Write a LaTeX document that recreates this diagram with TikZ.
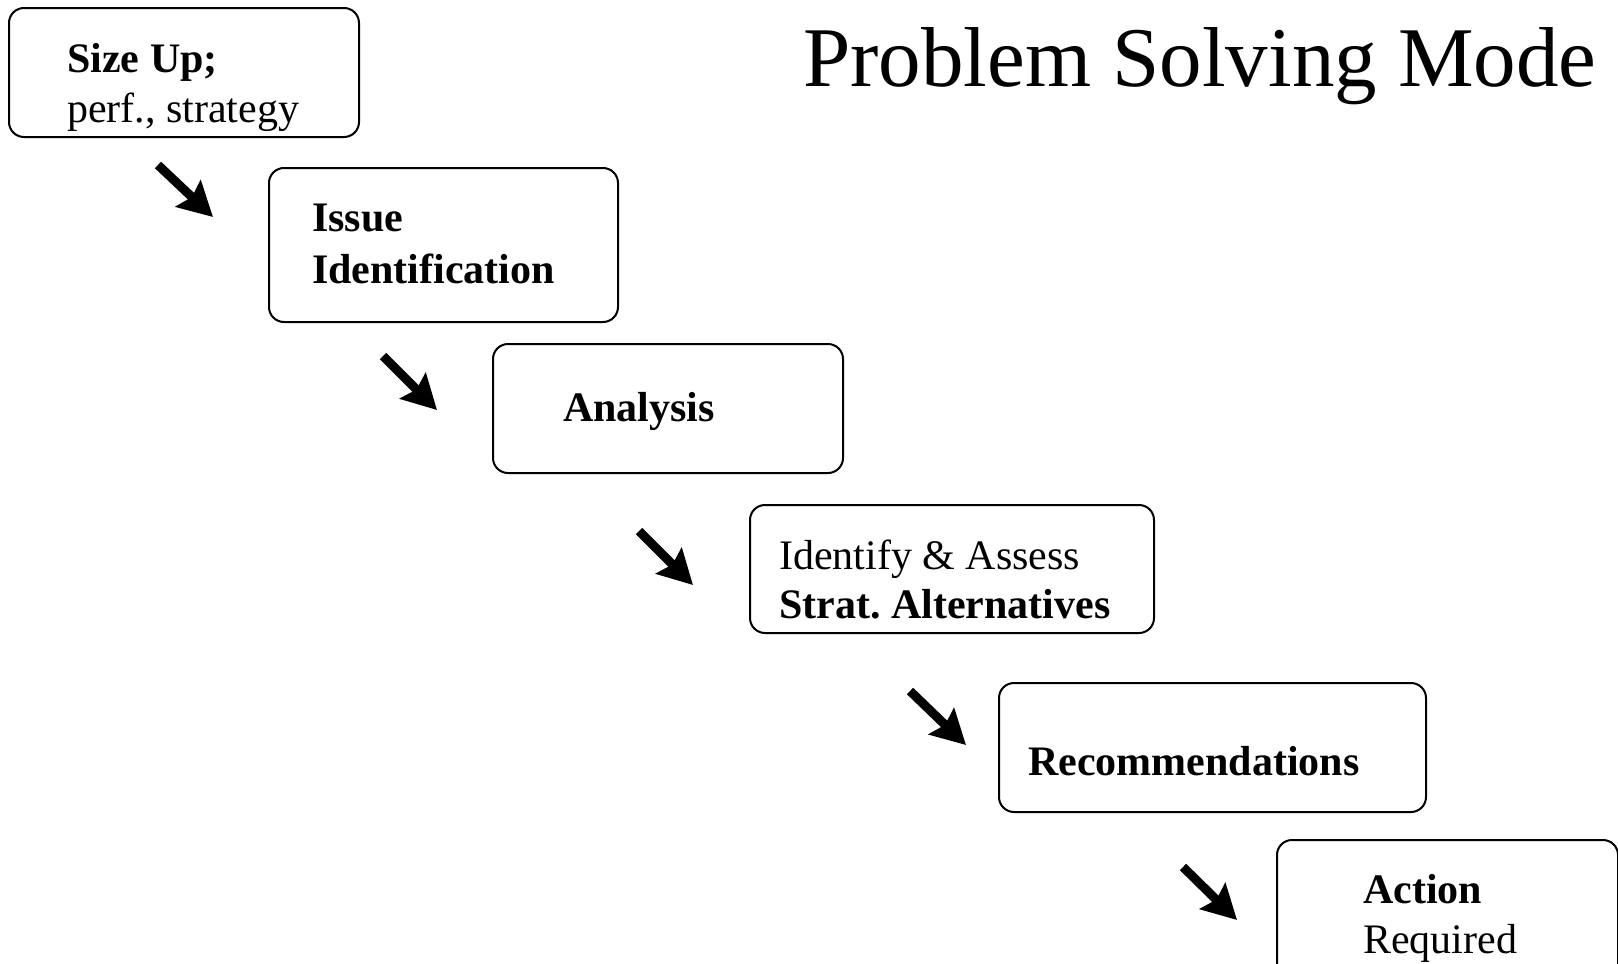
\documentclass[tikz,border=0pt]{standalone}
\usepackage{fontspec}
\setmainfont{Liberation Serif}
\usetikzlibrary{arrows.meta}
\frenchspacing
\begin{document}
\begin{tikzpicture}[x=1pt,y=-1pt,
  stepbox/.style={draw=black,line width=2pt,rounded corners=15pt,fill=white,
    inner sep=0pt,anchor=north west},
  boxtext/.style={anchor=base west,inner sep=0pt,font=\fontsize{42}{50}\selectfont},
  blockarrow/.style={line width=9pt,-{Stealth[length=34pt,width=36pt,inset=5pt]}}]
\useasboundingbox (0,0) rectangle (1618,964);
\clip (0,0) rectangle (1618,964);

% title
\node[anchor=base west,inner sep=0pt,font=\fontsize{85}{100}\selectfont] (title) at (803,86) {Problem Solving Mode};

% process boxes
\node[stepbox,minimum width=350pt,minimum height=129pt] (b1) at (8,7) {};
\node[stepbox,minimum width=349pt,minimum height=154pt] (b2) at (268,167) {};
\node[stepbox,minimum width=350pt,minimum height=129pt] (b3) at (492,343) {};
\node[stepbox,minimum width=404pt,minimum height=128pt] (b4) at (749,504) {};
\node[stepbox,minimum width=427pt,minimum height=129pt] (b5) at (998,682) {};
\node[stepbox,minimum width=341pt,minimum height=180pt] (b6) at (1276,839) {};

% box labels
\node[boxtext] (t1a) at (67,72) {\textbf{Size Up;}};
\node[boxtext] (t1b) at (67,122) {perf., strategy};
\node[boxtext] (t2a) at (312,231) {\textbf{Issue}};
\node[boxtext] (t2b) at (312,283) {\textbf{Identification}};
\node[boxtext] (t3) at (563,421) {\textbf{Analysis}};
\node[boxtext] (t4a) at (779,569) {Identify \& Assess};
\node[boxtext] (t4b) at (779,618) {\textbf{Strat. Alternatives}};
\node[boxtext] (t5) at (1028,775) {\textbf{Recommendations}};
\node[boxtext] (t6a) at (1363,903) {\textbf{Action}};
\node[boxtext] (t6b) at (1363,953) {Required};

% step arrows
\coordinate (a1s) at (158,165); \coordinate (a1e) at (213,217);
\coordinate (a2s) at (383,356); \coordinate (a2e) at (437,410);
\coordinate (a3s) at (639,531); \coordinate (a3e) at (693,585);
\coordinate (a4s) at (910,691); \coordinate (a4e) at (966,745);
\coordinate (a5s) at (1183,867); \coordinate (a5e) at (1237,920);
\draw[blockarrow] (a1s) -- (a1e);
\draw[blockarrow] (a2s) -- (a2e);
\draw[blockarrow] (a3s) -- (a3e);
\draw[blockarrow] (a4s) -- (a4e);
\draw[blockarrow] (a5s) -- (a5e);
\end{tikzpicture}
\end{document}
